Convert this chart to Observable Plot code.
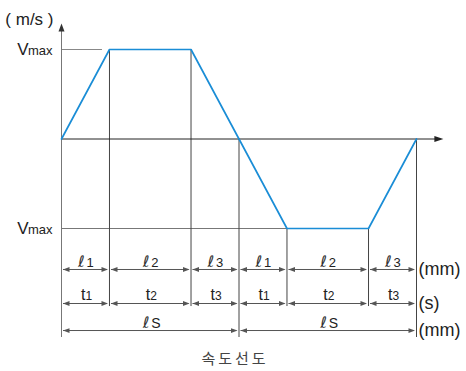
<!DOCTYPE html>
<html><head><meta charset="utf-8">
<script src="https://cdn.jsdelivr.net/npm/d3@7"></script>
<script src="https://cdn.jsdelivr.net/npm/@observablehq/plot@0.6"></script>
<style>
html,body{margin:0;padding:0;background:#fff;}
#chart svg{display:block;}
#cap{width:470px;height:26px;line-height:26px;text-align:center;font-family:"Noto Sans CJK KR",sans-serif;font-weight:400;font-size:15px;letter-spacing:3px;color:#444;}
</style></head>
<body><div id="chart"></div><div id="cap">속도선도</div>
<script>
// ---- data ----
const durations = [1, 1.7, 1, 1, 1.7, 1];          // t1 t2 t3 t1 t2 t3
const velocity  = [0, 1, 1, 0, -1, -1, 0];          // at each breakpoint (Vmax = 1)
const distSubs  = ["1", "2", "3", "1", "2", "3"];   // ℓ subscripts
const timeSubs  = ["1", "2", "3", "1", "2", "3"];   // t subscripts
const strokeSubs = ["S", "S"];                      // ℓs
const unitLabels = ["(mm)", "(s)", "(mm)"];
const vLabels = ["max", "max"];
const vLevels = [1, -1];
const yUnit = "( m/s )";

// ---- layout (in data units) ----
const ROW_L = -1.458, ROW_T = -1.838, ROW_S = -2.140;
const LBL_L = -1.425, LBL_T = -1.804, LBL_S = -2.117;
const DROP_SHORT = -1.872, DROP_LONG = -2.218;
const AXIS_TOP = 1.29, AXIS_RIGHT = 7.96;

const times = [0];
durations.forEach(d => times.push(+(times[times.length - 1] + d).toFixed(3)));
const total = times[times.length - 1];
const half = times[3];

const profile = times.map((t, i) => ({t, v: velocity[i]}));
const segs = durations.map((d, i) => ({x1: times[i], x2: times[i + 1], mid: (times[i] + times[i + 1]) / 2, ds: distSubs[i], ts: timeSubs[i]}));
const strokeSegs = [{x1: 0, x2: half, s: strokeSubs[0]}, {x1: half, x2: total, s: strokeSubs[1]}].map(d => ({...d, mid: (d.x1 + d.x2) / 2}));
const drops = times.slice(1).map((t, i) => ({t, y1: velocity[i + 1], y2: velocity[i + 1] === 0 ? DROP_LONG : DROP_SHORT}));

// arrowhead symbols (tip offset slightly from the extension lines)
const headR = {draw(c){ c.moveTo(-1.5, 0); c.lineTo(-8, -2.4); c.lineTo(-8, 2.4); c.closePath(); }};
const headL = {draw(c){ c.moveTo(1.5, 0); c.lineTo(8, -2.4); c.lineTo(8, 2.4); c.closePath(); }};
const headUp = {draw(c){ c.moveTo(0, 0); c.lineTo(-3, 8); c.lineTo(3, 8); c.closePath(); }};
const headAx = {draw(c){ c.moveTo(0, 0); c.lineTo(-9, -3); c.lineTo(-9, 3); c.closePath(); }};

const dimColor = "#555", txt = "#222", font = "Liberation Sans, Arial, sans-serif";
const ellFont = "DejaVu Sans";

function dimRow(data, y) {
  return [
    Plot.ruleY(data, {x1: "x1", x2: "x2", y: () => y, stroke: dimColor, insetLeft: 2, insetRight: 2}),
    Plot.dot(data, {x: "x1", y: () => y, symbol: headL, fill: dimColor, stroke: "none"}),
    Plot.dot(data, {x: "x2", y: () => y, symbol: headR, fill: dimColor, stroke: "none"})
  ];
}

const chart = Plot.plot({
  width: 466, height: 345, margin: 0,
  x: {domain: [0, total], range: [61, 416], axis: null},
  y: {domain: [-1, 1], range: [228, 49], axis: null},
  style: {fontFamily: font, background: "#fff", overflow: "visible"},
  marks: [
    // Vmax reference lines
    Plot.ruleY([{v: 1, x1: 0, x2: times[1]}], {y: "v", x1: "x1", x2: "x2", stroke: "#888", insetRight: 7}),
    Plot.ruleY([{v: -1, x1: 0, x2: times[4]}], {y: "v", x1: "x1", x2: "x2", stroke: "#777"}),
    // extension lines
    Plot.ruleX(drops, {x: "t", y1: "y1", y2: "y2", stroke: "#444"}),
    // axes
    Plot.ruleX([0], {y1: DROP_LONG, y2: AXIS_TOP - 0.05, stroke: "#777"}),
    Plot.dot([0], {x: 0, y: AXIS_TOP, symbol: headUp, fill: "#333", stroke: "none"}),
    Plot.ruleY([0], {x1: 0, x2: AXIS_RIGHT - 0.1, stroke: "#222"}),
    Plot.dot([0], {x: AXIS_RIGHT, y: 0, symbol: headAx, fill: "#222", stroke: "none"}),
    // velocity profile
    Plot.line(profile, {x: "t", y: "v", stroke: "#1a8dd6", strokeWidth: 1.7}),
    // dimension rows
    ...dimRow(segs, ROW_L),
    ...dimRow(segs, ROW_T),
    ...dimRow(strokeSegs, ROW_S),
    // ℓ labels
    Plot.text(segs, {x: "mid", y: () => LBL_L, text: () => "ℓ", textAnchor: "end", lineAnchor: "bottom", dx: -1, fontSize: 16, fontStyle: "italic", fontWeight: 200, fontFamily: ellFont, fill: "#333"}),
    Plot.text(segs, {x: "mid", y: () => LBL_L, text: "ds", textAnchor: "start", lineAnchor: "bottom", dx: 1, fontSize: 13, fill: txt}),
    // t labels
    Plot.text(segs, {x: "mid", y: () => LBL_T, text: () => "t", textAnchor: "end", lineAnchor: "bottom", dx: 0, fontSize: 16, fill: txt}),
    Plot.text(segs, {x: "mid", y: () => LBL_T, text: "ts", textAnchor: "start", lineAnchor: "bottom", dx: 0, fontSize: 12, fill: txt}),
    // ℓs labels
    Plot.text(strokeSegs, {x: "mid", y: () => LBL_S, text: () => "ℓ", textAnchor: "end", lineAnchor: "bottom", dx: -1, fontSize: 16, fontStyle: "italic", fontWeight: 200, fontFamily: ellFont, fill: "#333"}),
    Plot.text(strokeSegs, {x: "mid", y: () => LBL_S, text: "s", textAnchor: "start", lineAnchor: "bottom", dx: 1, fontSize: 14, fill: txt}),
    // units
    Plot.text(unitLabels.map((u, i) => ({u, y: [ROW_L, ROW_T, ROW_S][i]})), {x: () => total, y: "y", text: "u", textAnchor: "start", dx: 2, fontSize: 18, fill: txt}),
    // Vmax labels
    Plot.text(vLevels, {x: () => 0, y: d => d, text: (d, i) => vLabels[i], textAnchor: "end", lineAnchor: "bottom", dx: -9, dy: 5, fontSize: 13, fill: txt}),
    Plot.text(vLevels, {x: () => 0, y: d => d, text: () => "V", textAnchor: "end", lineAnchor: "bottom", dx: -33, dy: 5, fontSize: 17, fill: txt}),
    // y unit
    Plot.text([yUnit], {x: () => 0, y: () => 1, text: d => d, textAnchor: "end", lineAnchor: "bottom", dx: -8, dy: -25, fontSize: 17, fill: txt})
  ]
});
document.getElementById("chart").appendChild(chart);
</script>
</body></html>
